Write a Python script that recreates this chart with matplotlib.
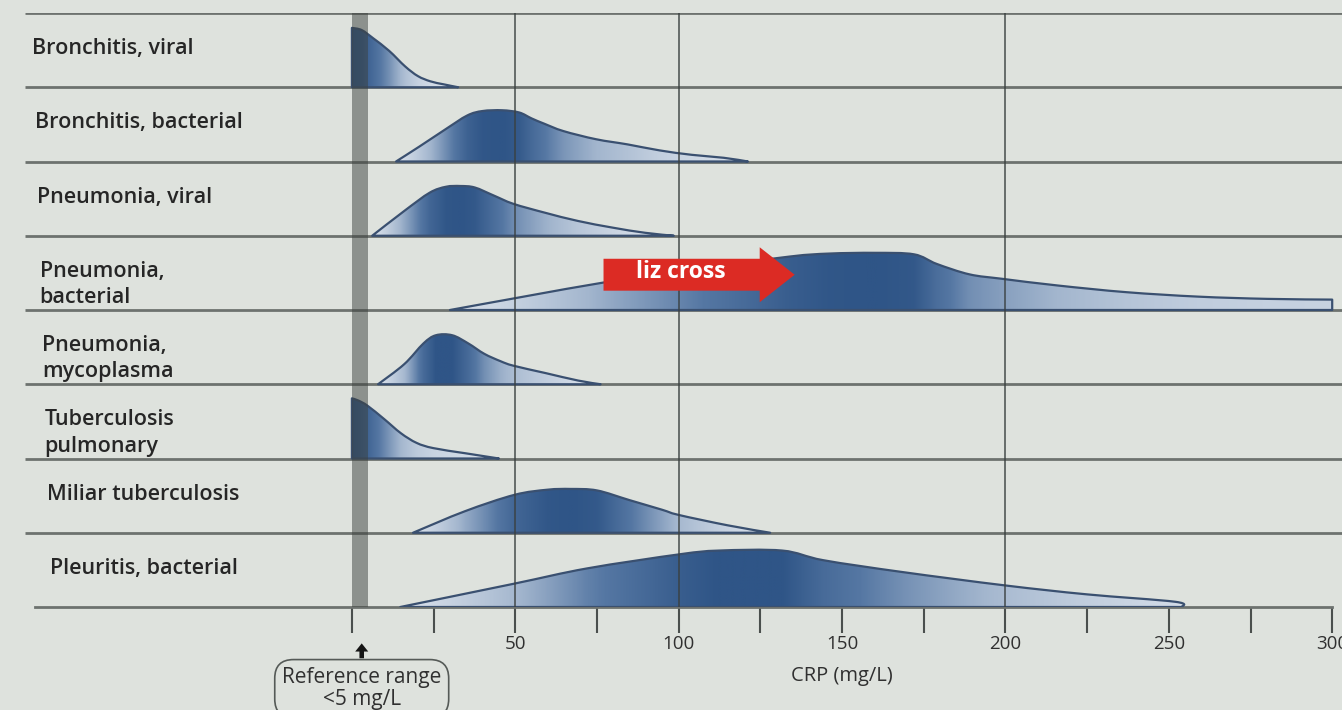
import numpy as np
import matplotlib
matplotlib.use("Agg")
import matplotlib.pyplot as plt
from matplotlib.path import Path
from matplotlib.patches import PathPatch, FancyArrow
from matplotlib.colors import LinearSegmentedColormap
from matplotlib.ticker import FixedLocator, FuncFormatter

plt.rcParams['font.family'] = ['Open Sans', 'DejaVu Sans']

# ---------------- data ----------------
conditions = ["Bronchitis, viral", "Bronchitis, bacterial", "Pneumonia, viral",
              "Pneumonia,\nbacterial", "Pneumonia,\nmycoplasma", "Tuberculosis\npulmonary",
              "Miliar tuberculosis", "Pleuritis, bacterial"]

# CRP (mg/L) positions and relative height (fraction of row) of each distribution outline
bronchitis_viral_x = [0, 3, 6.5, 11.4, 16.3, 20.2, 24, 28, 32.5]
bronchitis_viral_h = [0.80, 0.77, 0.66, 0.49, 0.28, 0.15, 0.08, 0.04, 0.0]

bronchitis_bact_x = [13.5, 20.6, 28.5, 35.3, 40, 46, 51.2, 55, 58.8, 64.7, 74.7, 84.4, 94.1, 104, 113.8, 121.2]
bronchitis_bact_h = [0.0, 0.20, 0.43, 0.62, 0.68, 0.69, 0.66, 0.58, 0.51, 0.41, 0.30, 0.23, 0.15, 0.09, 0.05, 0.0]

pneumonia_viral_x = [6.2, 16.2, 23.8, 28.8, 33.2, 37.6, 43.5, 49.4, 59.1, 69.1, 79.7, 89.7, 98.5]
pneumonia_viral_h = [0.0, 0.34, 0.58, 0.66, 0.67, 0.65, 0.54, 0.43, 0.31, 0.20, 0.11, 0.04, 0.0]

pneumonia_bact_x = [30, 77, 107, 134, 146, 160, 172, 179, 189, 199, 216, 237, 259, 280, 300]
pneumonia_bact_h = [0.0, 0.37, 0.56, 0.72, 0.76, 0.77, 0.75, 0.62, 0.48, 0.42, 0.33, 0.24, 0.18, 0.15, 0.14]

pneumonia_myco_x = [8, 16, 21.9, 25.7, 30.7, 35.6, 40.5, 45.5, 49.4, 59.3, 69.2, 76.1]
pneumonia_myco_h = [0.0, 0.27, 0.55, 0.66, 0.66, 0.55, 0.41, 0.31, 0.25, 0.15, 0.05, 0.0]

tb_pulmonary_x = [0, 2, 4.8, 9.9, 15, 19.8, 24.9, 34.8, 45]
tb_pulmonary_h = [0.81, 0.78, 0.71, 0.53, 0.34, 0.21, 0.14, 0.07, 0.0]

miliar_tb_x = [18.7, 34.6, 49.7, 59.9, 67, 75, 84.9, 94.9, 100, 115, 128]
miliar_tb_h = [0.0, 0.29, 0.51, 0.58, 0.59, 0.57, 0.44, 0.31, 0.24, 0.10, 0.0]

pleuritis_x = [14.8, 49.2, 72, 100.3, 112.3, 131.7, 144.3, 168.6, 200, 225, 252, 254]
pleuritis_h = [0.0, 0.31, 0.52, 0.71, 0.76, 0.76, 0.63, 0.47, 0.29, 0.17, 0.07, 0.0]

curves_x = [bronchitis_viral_x, bronchitis_bact_x, pneumonia_viral_x, pneumonia_bact_x,
            pneumonia_myco_x, tb_pulmonary_x, miliar_tb_x, pleuritis_x]
curves_h = [bronchitis_viral_h, bronchitis_bact_h, pneumonia_viral_h, pneumonia_bact_h,
            pneumonia_myco_h, tb_pulmonary_h, miliar_tb_h, pleuritis_h]

tick_values = list(range(0, 301, 25))
labeled_ticks = [50, 100, 150, 200, 250, 300]
grid_values = [50, 100, 200]
reference_limit = 5
annotation_text = "liz cross"
annotation_from, annotation_to = 77, 135.5
x_label = "CRP (mg/L)"
ref_text = "Reference range\n<5 mg/L"

# ---------------- style ----------------
BG = '#dee2dd'
ROWLINE = '#6d726f'
GRID = '#3a4040'
OUTLINE = '#3a5070'
TXT = '#262626'
cmap = LinearSegmentedColormap.from_list('blu', ['#d8e0ea', '#a3b6ce', '#5577a3', '#2f5587'])

W_PX, H_PX = 1342, 710
TOP_PX, BOT_PX = 13, 607
X0, X1 = -107.7, 303.0

fig = plt.figure(figsize=(W_PX / 100, H_PX / 100), dpi=100, facecolor=BG)
ax = fig.add_axes([0, (H_PX - BOT_PX) / H_PX, 1, (BOT_PX - TOP_PX) / H_PX])
ax.set_facecolor(BG)


def smooth(xs, ys):
    P = np.column_stack([xs, ys]).astype(float)
    n = len(P)
    verts, codes = [], []
    for i in range(n - 1):
        p0 = P[i - 1] if i > 0 else P[i]
        p1, p2 = P[i], P[i + 1]
        p3 = P[i + 2] if i + 2 < n else P[i + 1]
        c1 = p1 + (p2 - p0) / 6.0
        c2 = p2 - (p3 - p1) / 6.0
        verts += [tuple(c1), tuple(c2), tuple(p2)]
        codes += [Path.CURVE4] * 3
    return verts, codes


# row lines
ax.hlines(range(0, 8), -100, X1, color=ROWLINE, lw=2.0, zorder=1)

for i, (xs, hs) in enumerate(zip(curves_x, curves_h)):
    base = i + 1
    xs = np.asarray(xs, float)
    hs = np.asarray(hs, float)
    ys = base - hs
    verts = [(xs[0], base)]
    codes = [Path.MOVETO]
    if hs[0] > 0:
        verts.append((xs[0], ys[0]))
        codes.append(Path.LINETO)
    v, c = smooth(xs, ys)
    verts += v
    codes += c
    if hs[-1] > 0:
        verts.append((xs[-1], base))
        codes.append(Path.LINETO)
    verts.append((xs[0], base))
    codes.append(Path.CLOSEPOLY)
    path = Path(verts, codes)
    patch = PathPatch(path, facecolor='none', edgecolor=OUTLINE, lw=1.6, zorder=3,
                      joinstyle='round')
    ax.add_patch(patch)
    grid = np.linspace(xs[0], xs[-1], 500)
    t = np.interp(grid, xs, hs) / hs.max()
    img = cmap(np.clip(t, 0, 1) ** 1.3)[None, :, :]
    im = ax.imshow(img, extent=(xs[0], xs[-1], base, base - hs.max() - 0.1),
                   aspect='auto', interpolation='bilinear', zorder=2)
    im.set_clip_path(patch)
    ax.text(-97.8 + 0.75 * i, i + 0.34, conditions[i], ha='left', va='top',
            fontsize=15.5, fontweight='semibold', color=TXT, linespacing=1.32, zorder=5)

# reference band
ax.axvspan(0, reference_limit, 0, 1, color='#3c423e', alpha=0.5, lw=0, zorder=4)

# vertical grid lines
ax.vlines(grid_values, 0, 8, color=GRID, lw=1.2, alpha=0.85, zorder=4.5)

# red annotation arrow
arr = FancyArrow(annotation_from, 3.525, annotation_to - annotation_from, 0,
                 width=0.43, head_width=0.74, head_length=10.7,
                 length_includes_head=True, fc='#dc2b24', ec='none', zorder=6)
ax.add_patch(arr)
ax.text(100.5, 3.49, annotation_text, ha='center', va='center', color='white',
        fontsize=16.5, fontweight='bold', zorder=7)

# axes / ticks
ax.set_xlim(X0, X1)
ax.set_ylim(8, 0)
for s in ['top', 'left', 'right']:
    ax.spines[s].set_visible(False)
ax.spines['bottom'].set_bounds(-97, 300)
ax.spines['bottom'].set_color(ROWLINE)
ax.spines['bottom'].set_linewidth(2.0)
ax.set_yticks([])
ax.xaxis.set_major_locator(FixedLocator(tick_values))
ax.xaxis.set_major_formatter(FuncFormatter(lambda v, p: str(int(v)) if int(v) in labeled_ticks else ''))
ax.tick_params(axis='x', direction='out', length=19, width=1.5, color='#4a4f4d',
               pad=1.5, labelsize=13.5, labelcolor='#303030')

ax.text(150, 8.93, x_label, ha='center', va='center', fontsize=14.5, color='#303030')

# small black up-arrow pointing at the reference range
up = FancyArrow(3, 8.69, 0, -0.20, width=1.4, head_width=4.0, head_length=0.11,
                length_includes_head=True, fc='#151515', ec='none', clip_on=False, zorder=6)
ax.add_patch(up)
ax.text(3.0, 9.10, ref_text, ha='center', va='center', fontsize=15, color='#303030',
        linespacing=1.1,
        bbox=dict(boxstyle='round,pad=0.35,rounding_size=0.9', fc='none', ec='#555a57', lw=1.2))

fig.savefig('out.png', dpi=100, facecolor=BG)
